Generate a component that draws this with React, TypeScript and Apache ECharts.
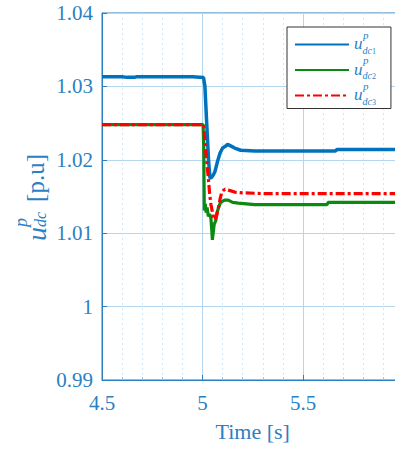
import React, { useEffect, useRef } from "react";
import * as echarts from "echarts";

// DC voltage traces (time in s, voltage in p.u.)
const u1Time = [4.5, 4.6, 4.625, 4.66, 4.67, 4.8, 4.95, 5.005, 5.012, 5.02, 5.03, 5.037, 5.045, 5.055, 5.062, 5.075, 5.087, 5.1, 5.112, 5.125, 5.14, 5.16, 5.19, 5.26, 5.4, 5.66, 5.67, 5.8, 6.0];
const u1Values = [1.0313, 1.0313, 1.03123, 1.03123, 1.0313, 1.0313, 1.0313, 1.0312, 1.03, 1.0255, 1.02, 1.0175, 1.0176, 1.018, 1.0184, 1.0198, 1.0209, 1.0216, 1.0218, 1.0221, 1.0219, 1.0216, 1.0213, 1.0212, 1.0212, 1.0212, 1.0214, 1.0214, 1.0214];

const u2Time = [4.5, 5.003, 5.006, 5.009, 5.014, 5.018, 5.023, 5.029, 5.036, 5.042, 5.046, 5.049, 5.053, 5.058, 5.066, 5.072, 5.079, 5.088, 5.096, 5.11, 5.128, 5.15, 5.178, 5.26, 5.62, 5.625, 6.0];
const u2Values = [1.0248, 1.0248, 1.022, 1.0131, 1.014, 1.0128, 1.0135, 1.0123, 1.0126, 1.012, 1.0105, 1.0091, 1.01, 1.0112, 1.0117, 1.0128, 1.0134, 1.0141, 1.0143, 1.0145, 1.0145, 1.0142, 1.0141, 1.0139, 1.0139, 1.0142, 1.0142];

const u3Time = [4.5, 5.004, 5.008, 5.015, 5.022, 5.029, 5.036, 5.042, 5.05, 5.056, 5.062, 5.07, 5.079, 5.087, 5.095, 5.103, 5.112, 5.125, 5.137, 5.16, 5.2, 5.3, 6.0];
const u3Values = [1.0248, 1.0248, 1.024, 1.0215, 1.0195, 1.0175, 1.0152, 1.0139, 1.0128, 1.012, 1.0118, 1.0124, 1.0134, 1.0146, 1.0155, 1.0158, 1.016, 1.0159, 1.0158, 1.0156, 1.0155, 1.0154, 1.0154];

const seriesNames = ["u_dc1", "u_dc2", "u_dc3"];
const seriesIndex = ["1", "2", "3"];

const xTicks = { min: 4.5, max: 6, interval: 0.5 };
const yTicks = { min: 0.99, max: 1.04, interval: 0.01 };

const AXIS = "#2b7fc3";
const FONT = "Liberation Serif";

const pairs = (t: number[], v: number[]) => t.map((x, i) => [x, v[i]]);

export default function App() {
  const ref = useRef<HTMLDivElement>(null);

  useEffect(() => {
    if (!ref.current) return;
    const chart = echarts.init(ref.current, null, { renderer: "svg" });

    const it = { fontStyle: "italic", fontFamily: FONT, color: AXIS, align: "left" };

    // u^p_{dc_k}: superscript on the first line, base + subscripts on the second
    const legendRich = {
      pad: { width: 9, lineHeight: 1, align: "left" },
      sp: { ...it, fontSize: 11, lineHeight: 1 },
      u: { ...it, fontSize: 17, lineHeight: 14, verticalAlign: "top" },
      dc: { ...it, fontSize: 10, lineHeight: 16, verticalAlign: "bottom" },
      n: { fontFamily: FONT, color: AXIS, align: "left", fontSize: 8, lineHeight: 6, verticalAlign: "bottom" },
      h: { width: 0, lineHeight: 20, align: "left" },
    };

    const titleRich = {
      pad: { width: 14, lineHeight: 3, align: "left" },
      sp: { ...it, fontSize: 18, lineHeight: 3 },
      u: { ...it, fontSize: 28, lineHeight: 20, verticalAlign: "top" },
      dc: { ...it, fontSize: 16, lineHeight: 16, verticalAlign: "bottom" },
      gap: { width: 10, lineHeight: 10, align: "left" },
      br: { fontFamily: FONT, color: AXIS, align: "left", fontSize: 25, lineHeight: 24, verticalAlign: "top" },
      h: { width: 0, lineHeight: 26, align: "left" },
    };

    chart.setOption({
      animation: false,
      backgroundColor: "#ffffff",
      textStyle: { fontFamily: FONT },
      grid: {
        left: 102,
        top: 13,
        width: 301.5,
        height: 367,
        outerBoundsMode: "none",
        containLabel: false,
        show: true,
        borderColor: AXIS,
        borderWidth: 1,
      },
      xAxis: {
        type: "value",
        min: xTicks.min,
        max: xTicks.max,
        interval: xTicks.interval,
        name: "Time [s]",
        nameLocation: "middle",
        nameGap: 40,
        nameTextStyle: { color: AXIS, fontFamily: FONT, fontSize: 22 },
        axisLine: { show: true, lineStyle: { color: AXIS, width: 1 } },
        axisTick: { show: true, inside: true, length: 5, lineStyle: { color: AXIS } },
        minorTick: { show: true, splitNumber: 5, length: 3, lineStyle: { color: "#9cc6e6" } },
        axisLabel: { color: AXIS, fontFamily: FONT, fontSize: 21, margin: 12, showMaxLabel: false },
        splitLine: { show: true, lineStyle: { color: "#b5d6ef", width: 1 } },
        minorSplitLine: { show: true, lineStyle: { color: "#d3e6f5", width: 1, type: [2, 3] } },
      },
      yAxis: {
        type: "value",
        min: yTicks.min,
        max: yTicks.max,
        interval: yTicks.interval,
        axisLine: { show: true, lineStyle: { color: AXIS, width: 1 } },
        axisTick: { show: true, inside: true, length: 5, lineStyle: { color: AXIS } },
        axisLabel: { color: AXIS, fontFamily: FONT, fontSize: 21, margin: 9 },
        splitLine: { show: true, lineStyle: { color: "#b5d6ef", width: 1 } },
      },
      legend: {
        orient: "vertical",
        left: 287,
        top: 27,
        padding: [1.5, 15, 2.5, 7],
        itemGap: -1,
        itemWidth: 54,
        itemHeight: 14,
        backgroundColor: "#ffffff",
        borderColor: "#333333",
        borderWidth: 1,
        borderRadius: 0,
        itemStyle: { opacity: 0, borderWidth: 0 },
        data: seriesNames,
        formatter: (name: string) => {
          const k = seriesIndex[seriesNames.indexOf(name)];
          return `{pad|}{sp|p}\n{u|u}{dc|dc}{n|${k}}{h|}`;
        },
        textStyle: { color: AXIS, fontFamily: FONT, rich: legendRich },
      },
      graphic: [
        {
          type: "text",
          x: 34,
          y: 197.5,
          rotation: Math.PI / 2,
          style: {
            text: "{pad|}{sp|p}\n{u|u}{dc|dc}{gap|}{br|[p.u]}{h|}",
            align: "center",
            verticalAlign: "middle",
            fill: AXIS,
            rich: titleRich,
          },
        },
      ],
      series: [
        {
          name: seriesNames[0],
          type: "line",
          data: pairs(u1Time, u1Values),
          symbol: "none",
          lineStyle: { color: "#0072bd", width: 3.5 },
          itemStyle: { color: "#0072bd" },
        },
        {
          name: seriesNames[1],
          type: "line",
          data: pairs(u2Time, u2Values),
          symbol: "none",
          lineStyle: { color: "#0a8a12", width: 3.2 },
          itemStyle: { color: "#0a8a12" },
        },
        {
          name: seriesNames[2],
          type: "line",
          data: pairs(u3Time, u3Values),
          symbol: "none",
          lineStyle: { color: "#ff0000", width: 3.2, type: [9, 3, 3, 3] },
          itemStyle: { color: "#ff0000" },
        },
      ],
    });

    return () => chart.dispose();
  }, []);

  return (
    <div
      ref={ref}
      style={{ position: "absolute", left: 0, top: 0, width: 395, height: 450 }}
    />
  );
}
